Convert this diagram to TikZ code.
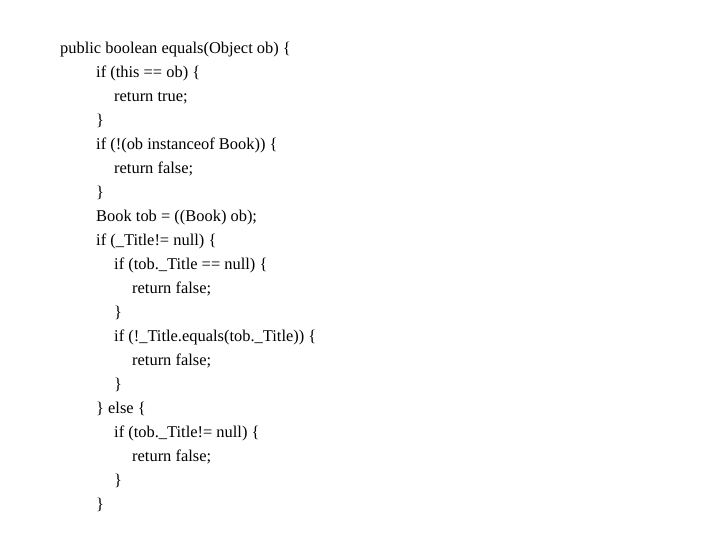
\documentclass[tikz,border=0pt]{standalone}
\usepackage{fontspec}
\setmainfont{Liberation Serif}
\begin{document}
\begin{tikzpicture}[x=1bp,y=1bp,codeline/.style={anchor=base west,inner sep=0pt,font=\fontsize{16.5}{20}\selectfont}]
\useasboundingbox (0,0) rectangle (720,540);
\foreach \i/\x/\t in {0/60/{public boolean equals(Object ob) \{},
1/96/{if (this == ob) \{},
2/114/{return true;},
3/96/{\}},
4/96/{if (!(ob instanceof Book)) \{},
5/114/{return false;},
6/96/{\}},
7/96/{Book tob = ((Book) ob);},
8/96/{if (\_Title!= null) \{},
9/114/{if (tob.\_Title == null) \{},
10/132/{return false;},
11/114/{\}},
12/114/{if (!\_Title.equals(tob.\_Title)) \{},
13/132/{return false;},
14/114/{\}},
15/96/{\} else \{},
16/114/{if (tob.\_Title!= null) \{},
17/132/{return false;},
18/114/{\}},
19/96/{\}}}
  \node[codeline] (l\i) at (\x,{540-54-24*\i}) {\t};
\end{tikzpicture}
\end{document}
